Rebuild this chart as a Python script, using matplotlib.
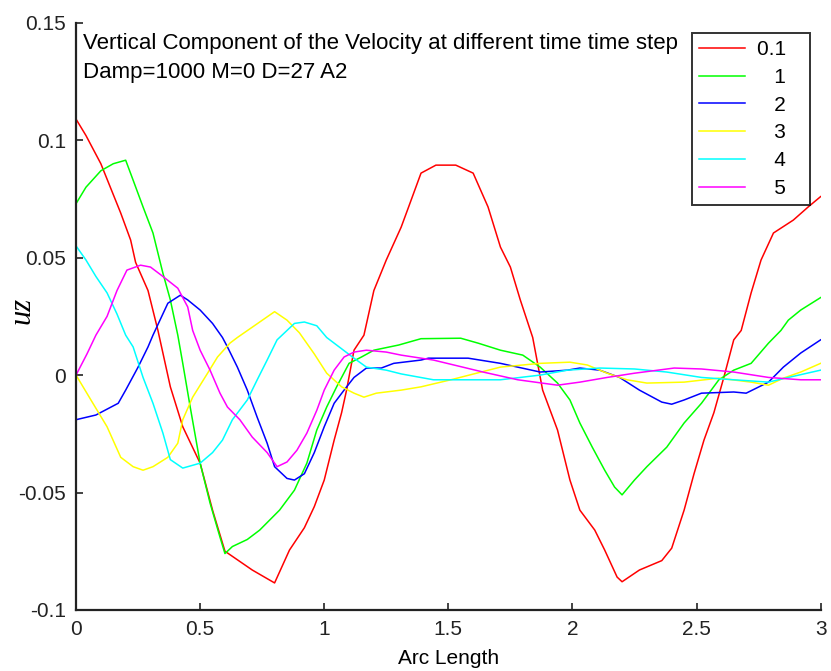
import matplotlib
matplotlib.use("Agg")
import matplotlib.pyplot as plt

plt.rcParams['font.family'] = ['Liberation Sans', 'DejaVu Sans']
plt.rcParams['axes.unicode_minus'] = False

# time steps shown in the legend
labels = ['0.1   ', '   1   ', '   2   ', '   3   ', '   4   ', '   5   ']
colors = ['#ff0000', '#00ff00', '#0000ff', '#ffff00', '#00ffff', '#ff00ff']

red_x = [0, 0.04, 0.1, 0.18, 0.22, 0.24, 0.29, 0.33, 0.38, 0.43, 0.5, 0.55, 0.6, 0.71, 0.8,
         0.86, 0.92, 0.96, 1.0, 1.04, 1.07, 1.09, 1.12, 1.16, 1.2, 1.25, 1.31, 1.34, 1.39,
         1.45, 1.53, 1.6, 1.66, 1.71, 1.75, 1.79, 1.84, 1.88, 1.94, 1.99, 2.03, 2.09, 2.13,
         2.18, 2.2, 2.27, 2.36, 2.4, 2.45, 2.49, 2.53, 2.57, 2.61, 2.65, 2.68, 2.72, 2.76,
         2.81, 2.89, 2.95, 3.0]
red_y = [0.109, 0.102, 0.090, 0.069, 0.0575, 0.048, 0.036, 0.019, -0.005, -0.022, -0.0375,
         -0.0575, -0.075, -0.083, -0.0885, -0.0745, -0.065, -0.056, -0.0447, -0.0277, -0.016,
         -0.0064, 0.0106, 0.017, 0.036, 0.049, 0.063, 0.0716, 0.086, 0.0894, 0.0894, 0.086,
         0.0716, 0.0545, 0.046, 0.032, 0.016, -0.0064, -0.0234, -0.0447, -0.0575, -0.066,
         -0.0745, -0.086, -0.088, -0.083, -0.079, -0.0737, -0.0575, -0.042, -0.0277, -0.016,
         -0.001, 0.015, 0.019, 0.035, 0.049, 0.0605, 0.066, 0.0716, 0.076]

green_x = [0, 0.04, 0.1, 0.15, 0.2, 0.23, 0.27, 0.31, 0.35, 0.38, 0.41, 0.43, 0.46, 0.5, 0.54,
           0.58, 0.6, 0.63, 0.69, 0.74, 0.82, 0.88, 0.93, 0.97, 1.01, 1.05, 1.1, 1.15, 1.2, 1.3,
           1.39, 1.55, 1.62, 1.71, 1.8, 1.87, 1.94, 1.99, 2.03, 2.08, 2.13, 2.17, 2.2, 2.25,
           2.3, 2.38, 2.45, 2.52, 2.59, 2.65, 2.72, 2.79, 2.84, 2.87, 2.92, 3.0]
green_y = [0.073, 0.080, 0.087, 0.090, 0.0915, 0.083, 0.0716, 0.0605, 0.0434, 0.032, 0.017,
           0.005, -0.0136, -0.0375, -0.0545, -0.069, -0.076, -0.073, -0.070, -0.066, -0.0575,
           -0.049, -0.0375, -0.0234, -0.0136, -0.005, 0.005, 0.0077, 0.0106, 0.0128, 0.0155,
           0.0157, 0.0136, 0.0106, 0.0085, 0.0034, -0.0034, -0.0106, -0.0204, -0.0307,
           -0.0405, -0.0477, -0.051, -0.0447, -0.039, -0.0307, -0.0204, -0.012, -0.002,
           0.0021, 0.005, 0.0136, 0.019, 0.0234, 0.0277, 0.033]

blue_x = [0, 0.08, 0.17, 0.2, 0.25, 0.29, 0.31, 0.37, 0.42, 0.45, 0.5, 0.55, 0.59, 0.61, 0.65,
          0.69, 0.73, 0.77, 0.8, 0.85, 0.88, 0.92, 0.96, 1.0, 1.04, 1.08, 1.12, 1.17, 1.23,
          1.28, 1.39, 1.42, 1.58, 1.71, 1.87, 1.98, 2.03, 2.11, 2.19, 2.27, 2.36, 2.4, 2.45,
          2.52, 2.65, 2.7, 2.79, 2.85, 2.92, 3.0]
blue_y = [-0.019, -0.017, -0.012, -0.0064, 0.0034, 0.012, 0.017, 0.0306, 0.034, 0.032,
          0.0277, 0.022, 0.016, 0.012, 0.0034, -0.0064, -0.018, -0.029, -0.039, -0.044,
          -0.0447, -0.042, -0.033, -0.022, -0.012, -0.0064, -0.001, 0.003, 0.003, 0.005,
          0.0064, 0.0072, 0.0072, 0.005, 0.0013, 0.0021, 0.003, 0.0021, -0.001, -0.0064,
          -0.0115, -0.0124, -0.0106, -0.0077, -0.0072, -0.0077, -0.003, 0.0034, 0.0094, 0.015]

yellow_x = [0, 0.06, 0.125, 0.18, 0.23, 0.27, 0.31, 0.37, 0.41, 0.43, 0.47, 0.53, 0.57, 0.62,
            0.65, 0.71, 0.8, 0.85, 0.9, 0.96, 1.01, 1.07, 1.12, 1.16, 1.21, 1.31, 1.39, 1.51,
            1.71, 1.87, 1.99, 2.06, 2.14, 2.22, 2.3, 2.45, 2.59, 2.72, 2.79, 2.85, 2.92, 3.0]
yellow_y = [0, -0.0106, -0.022, -0.035, -0.039, -0.0405, -0.039, -0.035, -0.029, -0.019,
            -0.0094, 0.0008, 0.0077, 0.0136, 0.016, 0.0204, 0.027, 0.0234, 0.018, 0.009,
            0.0008, -0.005, -0.0077, -0.0094, -0.0077, -0.0064, -0.005, -0.002, 0.0034, 0.005,
            0.0055, 0.0043, 0.0008, -0.002, -0.0034, -0.003, -0.0013, -0.003, -0.0043,
            -0.0013, 0.0013, 0.005]

cyan_x = [0, 0.04, 0.08, 0.125, 0.165, 0.2, 0.23, 0.27, 0.31, 0.35, 0.38, 0.43, 0.5, 0.55,
          0.59, 0.63, 0.69, 0.73, 0.77, 0.81, 0.84, 0.88, 0.92, 0.97, 1.01, 1.06, 1.12, 1.17,
          1.25, 1.31, 1.44, 1.71, 1.87, 1.98, 2.11, 2.25, 2.38, 2.52, 2.65, 2.79, 2.87, 3.0]
cyan_y = [0.055, 0.049, 0.042, 0.035, 0.026, 0.017, 0.012, -0.001, -0.012, -0.0247, -0.036,
          -0.0396, -0.0375, -0.033, -0.0277, -0.019, -0.0106, -0.002, 0.0064, 0.015, 0.018,
          0.022, 0.0226, 0.021, 0.016, 0.012, 0.0072, 0.0034, 0.0021, 0.0005, -0.002, -0.002,
          0, 0.0021, 0.003, 0.0026, 0.0013, -0.001, -0.002, -0.003, -0.001, 0.0021]

mag_x = [0, 0.044, 0.08, 0.125, 0.165, 0.205, 0.26, 0.3, 0.35, 0.41, 0.45, 0.47, 0.5, 0.54,
         0.58, 0.61, 0.66, 0.71, 0.77, 0.81, 0.85, 0.89, 0.93, 0.97, 1.0, 1.04, 1.08, 1.12,
         1.17, 1.25, 1.31, 1.44, 1.64, 1.78, 1.94, 2.03, 2.14, 2.25, 2.41, 2.52, 2.65, 2.79,
         2.92, 3.0]
mag_y = [0, 0.009, 0.017, 0.025, 0.036, 0.0447, 0.0468, 0.046, 0.042, 0.037, 0.029, 0.019,
         0.0106, 0.0021, -0.0077, -0.0136, -0.019, -0.0264, -0.033, -0.039, -0.037, -0.032,
         -0.0247, -0.015, -0.0064, 0.0021, 0.0077, 0.0098, 0.0106, 0.0098, 0.0085, 0.0064,
         0.0013, -0.002, -0.0043, -0.003, -0.001, 0.0008, 0.003, 0.0026, 0.0013, -0.001,
         -0.002, -0.002]

xs = [red_x, green_x, blue_x, yellow_x, cyan_x, mag_x]
ys = [red_y, green_y, blue_y, yellow_y, cyan_y, mag_y]

fig = plt.figure(figsize=(8.31, 6.71), dpi=100)
ax = fig.add_axes([0.0915, 0.091, 0.896, 0.875])

for x, y, c, lab in zip(xs, ys, colors, labels):
    ax.plot(x, y, color=c, lw=1.1, label=lab)

ax.set_xlim(0, 3)
ax.set_ylim(-0.1, 0.15)
ax.set_xticks([0, 0.5, 1, 1.5, 2, 2.5, 3])
ax.set_xticklabels(['0', '0.5', '1', '1.5', '2', '2.5', '3'])
ax.set_yticks([-0.1, -0.05, 0, 0.05, 0.1, 0.15])
ax.set_yticklabels(['-0.1', '-0.05', '0', '0.05', '0.1', '0.15'])
ax.tick_params(direction='in', length=5, width=1.2, labelsize=15, colors='#222222', pad=7)
ax.spines['top'].set_visible(False)
ax.spines['right'].set_visible(False)
for s in ['left', 'bottom']:
    ax.spines[s].set_linewidth(1.6)
    ax.spines[s].set_color('#222222')

ax.set_xlabel('Arc Length', fontsize=15)
ax.xaxis.set_label_coords(0.5, -0.067)
ax.set_ylabel('uz', fontsize=22, fontstyle='italic', family='Liberation Serif')
ax.yaxis.set_label_coords(-0.053, 0.51)

ax.text(0.01, 0.982, 'Vertical Component of the Velocity at different time time step',
        transform=ax.transAxes, fontsize=16, va='top', ha='left')
ax.text(0.01, 0.934, 'Damp=1000 M=0 D=27 A2',
        transform=ax.transAxes, fontsize=16, va='top', ha='left')

leg = ax.legend(loc='upper right', bbox_to_anchor=(0.986, 0.983), borderaxespad=0,
                fontsize=15, frameon=True, fancybox=False, edgecolor='black',
                handlelength=2.2, handletextpad=0.55, labelspacing=0.42, borderpad=0.35)
leg.get_frame().set_linewidth(1.4)

fig.savefig('out.png', dpi=100)
